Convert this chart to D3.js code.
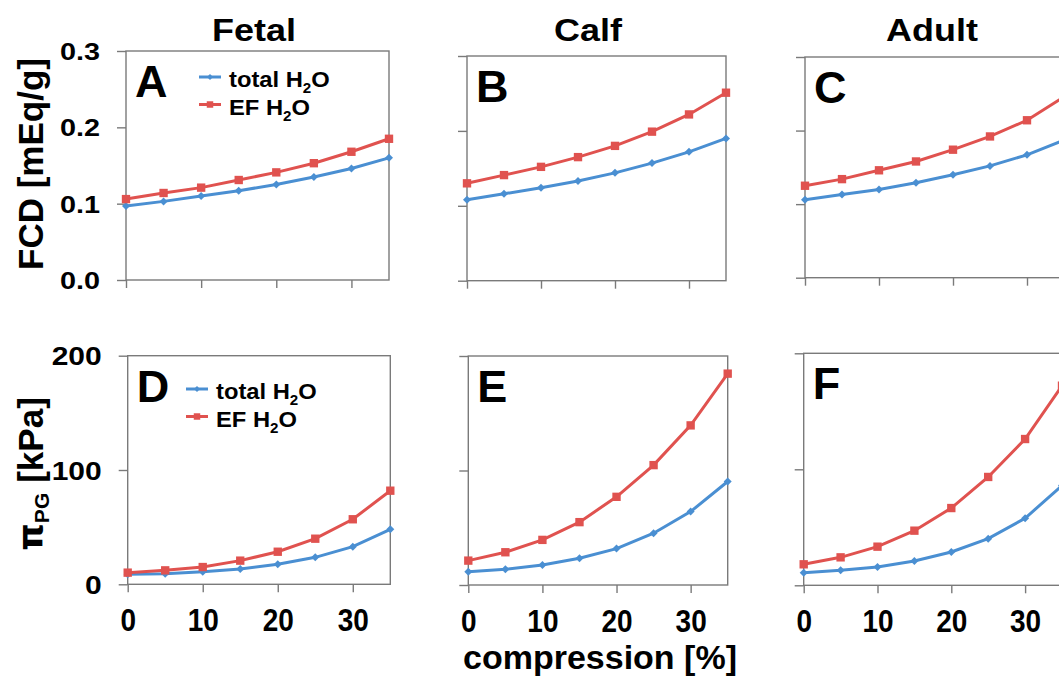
<!DOCTYPE html>
<html>
<head>
<meta charset="utf-8">
<script src="https://cdn.jsdelivr.net/npm/d3@7"></script>
<style>
  body { margin: 0; background: #fff; }
  text { font-family: "Liberation Sans", Arial, sans-serif; font-weight: bold; fill: #000; }
</style>
</head>
<body>
<div id="my_dataviz"></div>
<script>
/** compression steps (x values) */
var compression = [0, 5, 10, 15, 20, 25, 30, 35];
var xTicks = [0, 10, 20, 30];
var columnTitles = ["Fetal", "Calf", "Adult"];
var panelLetters = ["A", "B", "C", "D", "E", "F"];
var seriesNames = ["total H2O", "EF H2O"];

/** FCD [mEq/g] - top row */
var fcdFetalTotal = [0.097, 0.103, 0.110, 0.117, 0.125, 0.135, 0.146, 0.160];
var fcdFetalEF    = [0.106, 0.114, 0.121, 0.131, 0.141, 0.153, 0.168, 0.185];
var fcdCalfTotal  = [0.108, 0.116, 0.124, 0.133, 0.144, 0.157, 0.172, 0.190];
var fcdCalfEF     = [0.130, 0.141, 0.152, 0.165, 0.180, 0.199, 0.222, 0.251];
var fcdAdultTotal = [0.106, 0.113, 0.120, 0.129, 0.140, 0.152, 0.167, 0.187];
var fcdAdultEF    = [0.125, 0.134, 0.146, 0.158, 0.174, 0.192, 0.214, 0.246];
var fcdTicks = [0, 0.1, 0.2, 0.3];

/** pi_PG [kPa] - bottom row */
var pgFetalTotal = [8.7, 9.3, 11.0, 13.4, 17.5, 23.6, 32.9, 48.1];
var pgFetalEF    = [10.2, 12.2, 15.1, 20.7, 28.5, 39.9, 56.9, 81.9];
var pgCalfTotal  = [11.6, 13.7, 17.5, 23.3, 31.8, 45.2, 64.1, 90.4];
var pgCalfEF     = [21.3, 28.6, 39.4, 54.9, 77.0, 104.7, 139.4, 184.6];
var pgAdultTotal = [10.9, 12.9, 15.8, 20.9, 28.7, 40.2, 57.8, 86.0];
var pgAdultEF    = [18.1, 24.1, 33.3, 47.1, 66.6, 93.4, 126.1, 172.0];
var pgTicks = [0, 100, 200];

var blue = "#4a8fd2", red = "#e0524f";
var axisColor = "#7a7a7a";

var width = 1059, height = 681;
var svg = d3.select("#my_dataviz")
  .append("svg")
    .attr("width", width)
    .attr("height", height);

/** panel boxes in pixels: left, right, top, bottom */
var panels = [
  {box: [126, 389, 51, 280],   ymax: 0.3, ticks: fcdTicks, total: fcdFetalTotal, ef: fcdFetalEF, col: 0, row: 0},
  {box: [467, 726, 56, 280.7], ymax: 0.3, ticks: fcdTicks, total: fcdCalfTotal,  ef: fcdCalfEF,  col: 1, row: 0},
  {box: [805, 1064, 57, 277.7], ymax: 0.3, ticks: fcdTicks, total: fcdAdultTotal, ef: fcdAdultEF, col: 2, row: 0},
  {box: [127.7, 390.3, 355.7, 584.3], ymax: 200, ticks: pgTicks, total: pgFetalTotal, ef: pgFetalEF, col: 0, row: 1},
  {box: [468.3, 727.7, 356, 585],     ymax: 200, ticks: pgTicks, total: pgCalfTotal,  ef: pgCalfEF,  col: 1, row: 1},
  {box: [803.7, 1062, 353.3, 585.3],  ymax: 200, ticks: pgTicks, total: pgAdultTotal, ef: pgAdultEF, col: 2, row: 1}
];

panels.forEach(function(p, i) {
  var x = d3.scaleLinear().domain([0, 35]).range([p.box[0], p.box[1]]);
  var y = d3.scaleLinear().domain([0, p.ymax]).range([p.box[3], p.box[2]]);
  var g = svg.append("g");

  /** plot frame */
  g.append("rect")
    .attr("x", p.box[0]).attr("y", p.box[2])
    .attr("width", p.box[1] - p.box[0]).attr("height", p.box[3] - p.box[2])
    .attr("fill", "none").attr("stroke", axisColor).attr("stroke-width", 1.4);

  /** y axis */
  var yAxis = d3.axisLeft(y).tickValues(p.ticks).tickSize(9).tickSizeOuter(0)
    .tickFormat(p.col == 0 ? (p.row == 0 ? d3.format(".1f") : d3.format("d")) : "");
  var ya = g.append("g").attr("transform", "translate(" + p.box[0] + ",0)").call(yAxis);
  ya.select(".domain").remove();
  ya.selectAll("line").attr("stroke", axisColor).attr("stroke-width", 1.4);
  ya.selectAll("text")
    .attr("x", -26 / 1.2).attr("dy", "0.36em")
    .attr("transform", "scale(1.2,1)")
    .style("font-size", p.row == 0 ? "24px" : "25px");

  /** x axis */
  var xAxis = d3.axisBottom(x).tickValues(xTicks).tickSize(8).tickSizeOuter(0)
    .tickFormat(p.row == 1 ? d3.format("d") : "");
  var xa = g.append("g").attr("transform", "translate(0," + p.box[3] + ")").call(xAxis);
  xa.select(".domain").remove();
  xa.selectAll("line").attr("stroke", axisColor).attr("stroke-width", 1.4);
  xa.selectAll("text")
    .attr("y", 47 / 1.15).attr("dy", 0)
    .attr("transform", "scale(1,1.15)")
    .style("font-size", "28px");

  /** lines and markers */
  var line = d3.line()
    .x(function(d, k) { return x(compression[k]); })
    .y(function(d) { return y(d); });

  [[p.total, blue], [p.ef, red]].forEach(function(s, si) {
    g.append("path")
      .attr("d", line(s[0]))
      .attr("fill", "none").attr("stroke", s[1]).attr("stroke-width", 3);
    g.selectAll(null)
      .data(s[0])
      .enter()
      .append("path")
        .attr("d", d3.symbol().type(d3.symbolSquare).size(si == 0 ? 32 : 70))
        .attr("transform", function(d, k) {
          return "translate(" + x(compression[k]) + "," + y(d) + ")" + (si == 0 ? " rotate(45)" : "");
        })
        .attr("fill", s[1]);
  });

  /** panel letter */
  g.append("text")
    .attr("x", p.box[0] + 9).attr("y", p.box[2] + 46)
    .style("font-size", "45px")
    .text(panelLetters[i]);
});

/** legends in A and D */
var legends = [{x: 199, y: 77}, {x: 186, y: 389}];
legends.forEach(function(l) {
  var g = svg.append("g").attr("transform", "translate(" + l.x + "," + l.y + ")");
  [blue, red].forEach(function(c, si) {
    var ly = si * 27.5;
    g.append("line").attr("x1", 0).attr("x2", 22).attr("y1", ly).attr("y2", ly)
      .attr("stroke", c).attr("stroke-width", 3);
    g.append("path")
      .attr("d", d3.symbol().type(d3.symbolSquare).size(si == 0 ? 18 : 42))
      .attr("transform", "translate(11," + ly + ")" + (si == 0 ? " rotate(45)" : ""))
      .attr("fill", c);
    var t = g.append("text")
      .attr("transform", "translate(30," + (ly + 10) + ") scale(1.08,1)")
      .style("font-size", "22px");
    var name = seriesNames[si];
    t.append("tspan").text(name.slice(0, name.length - 2));
    t.append("tspan").attr("dy", 6).style("font-size", "14px").text("2");
    t.append("tspan").attr("dy", -6).text("O");
  });
});

/** column titles */
var titleX = [254, 588, 932];
svg.selectAll("colTitles")
  .data(columnTitles)
  .enter()
  .append("text")
    .attr("transform", function(d, i) { return "translate(" + titleX[i] + ",41) scale(1.16,1)"; })
    .attr("text-anchor", "middle")
    .style("font-size", "31px")
    .text(function(d) { return d; });

/** y axis titles */
svg.append("text")
  .attr("transform", "translate(43,164) rotate(-90)")
  .attr("text-anchor", "middle")
  .style("font-size", "35px")
  .text("FCD [mEq/g]");

var pt = svg.append("text")
  .attr("transform", "translate(43,474) rotate(-90)")
  .attr("text-anchor", "middle")
  .style("font-size", "35px");
pt.append("tspan").style("font-family", "'DejaVu Sans', sans-serif").text("π");
pt.append("tspan").attr("dy", 6).style("font-size", "21px").text("PG");
pt.append("tspan").attr("dy", -6).attr("dx", 10).text("[kPa]");

/** x axis title */
svg.append("text")
  .attr("x", 600).attr("y", 669)
  .attr("text-anchor", "middle")
  .style("font-size", "34px")
  .text("compression [%]");
</script>
</body>
</html>
